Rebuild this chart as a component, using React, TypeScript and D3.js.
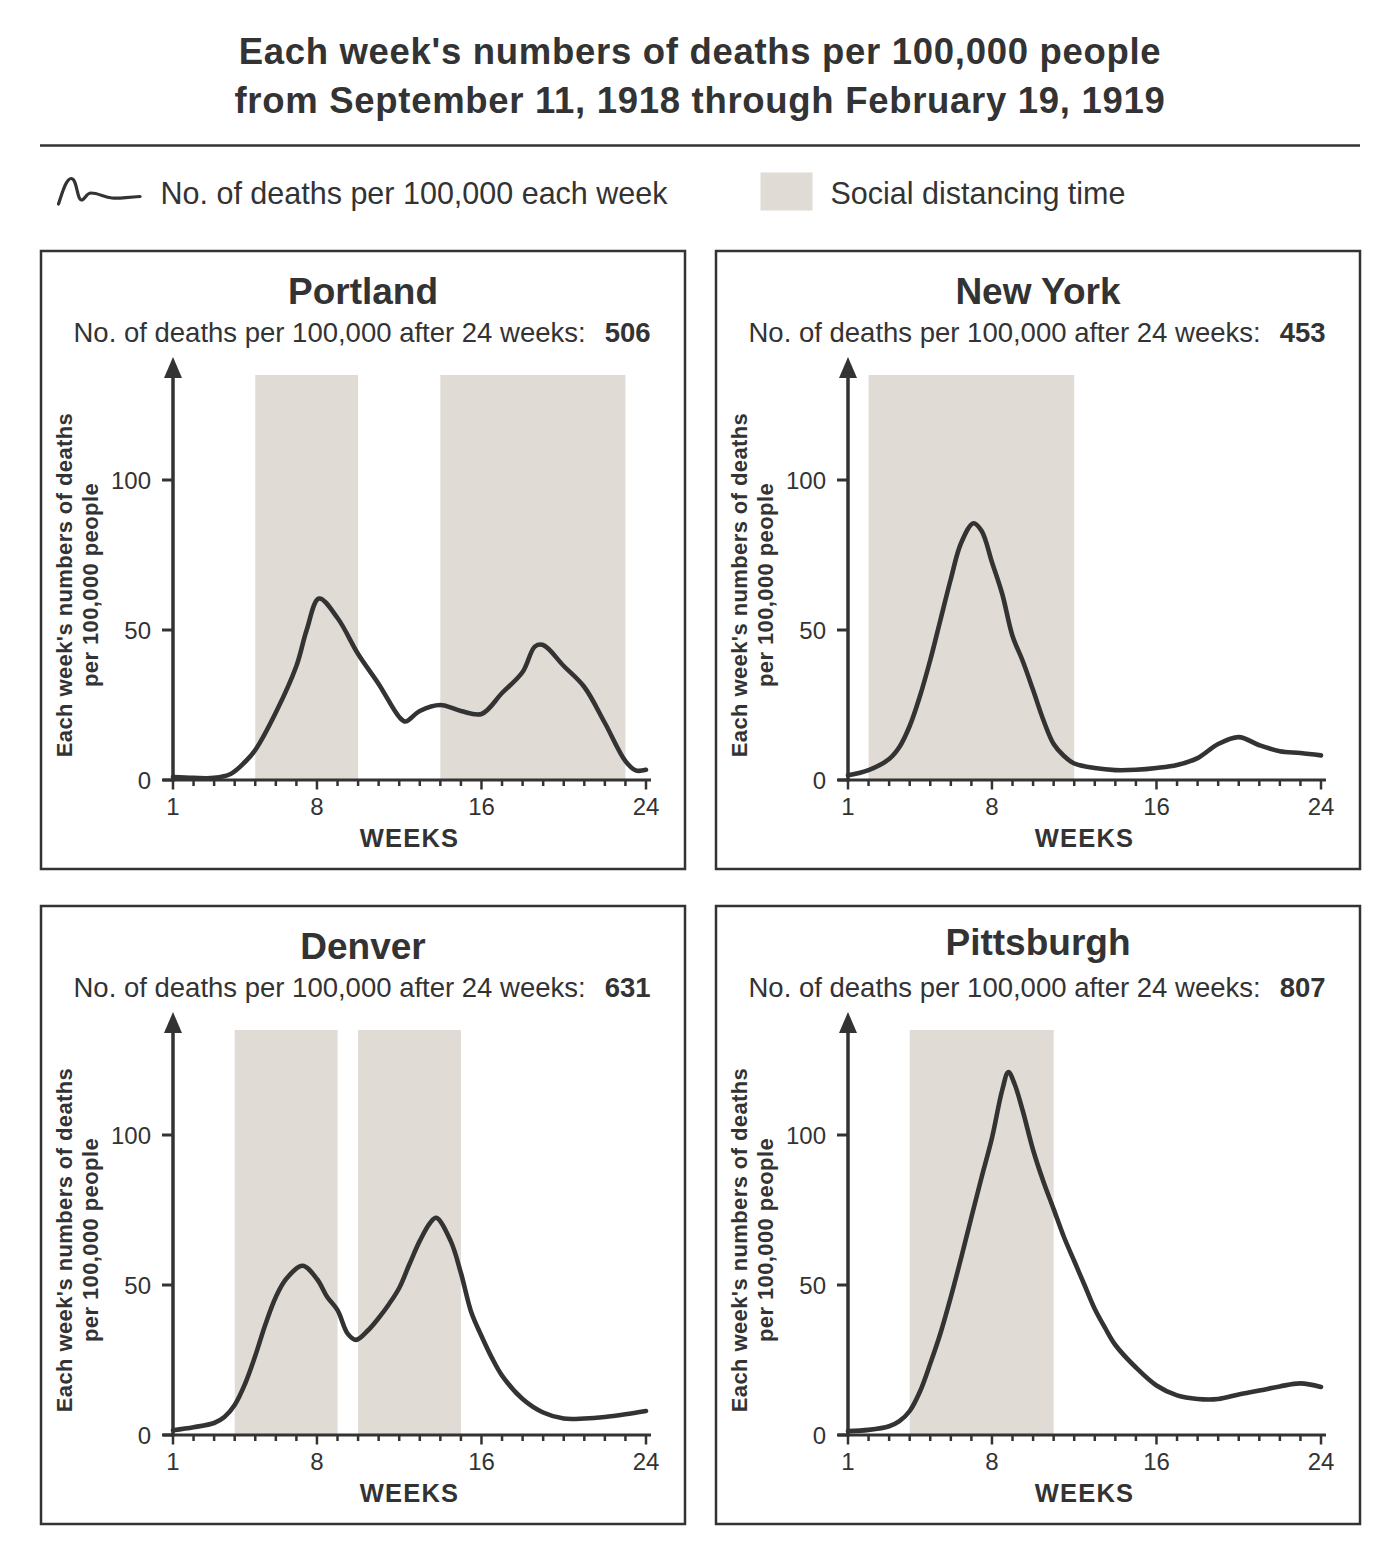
import { useEffect } from 'react';
import * as d3 from 'd3';

const INK = '#333333';
const SHADE = '#e0dbd4';
const FONT = '"Liberation Sans", Arial, Helvetica, sans-serif';

// x axis: one tick per week, labels on a few of them
const weekTicks = d3.range(1, 25);
const weekLabels = [1, 8, 16, 24];
const deathTicks = [0, 50, 100];

// values, deaths per 100,000 per week
const portlandWeeks = [1, 2, 3, 3.8, 4.5, 5, 6, 7, 7.5, 8.1, 9, 10, 11, 12, 12.3, 13, 14, 15, 16, 17, 18, 18.6, 19, 20, 21, 22, 23, 23.5, 24];
const portlandDeaths = [1, 0.7, 0.7, 2, 6, 10, 22.5, 38, 50, 60.5, 54, 42, 32, 21, 19.5, 23, 25, 23, 22, 29, 36, 44.5, 45, 38, 31, 19, 6.3, 3.2, 3.4];
const portlandDistancing = [[5, 10], [14, 23]];

const newYorkWeeks = [1, 2, 3, 3.5, 4, 4.5, 5, 5.5, 6, 6.5, 7.1, 7.5, 8, 8.5, 9, 9.5, 10, 10.5, 11, 11.5, 12, 13, 14, 15, 16, 17, 18, 19, 20, 21, 22, 23, 24];
const newYorkDeaths = [1.6, 3.3, 7, 11, 18, 28, 40, 53.5, 67, 79, 85.6, 83, 72.6, 62, 48, 39.6, 30, 20, 12, 8, 5.5, 4, 3.3, 3.4, 4, 5, 7.3, 12, 14.3, 11.6, 9.6, 9, 8.2];
const newYorkDistancing = [[2, 12]];

const denverWeeks = [1, 2, 3, 3.5, 4, 4.5, 5, 5.5, 6, 6.5, 7.3, 8, 8.5, 9, 9.5, 9.9, 10.5, 11, 11.5, 12, 12.5, 13, 13.5, 13.8, 14.5, 15, 15.5, 16, 16.5, 17, 18, 19, 20, 21, 22, 23, 24];
const denverDeaths = [1.6, 2.6, 4, 6, 10, 17, 26.4, 37, 46, 52, 56.4, 52, 46, 41.6, 33.7, 31.7, 35, 39, 43.6, 49, 57, 64.7, 70.7, 72.4, 64.7, 54, 41, 33, 25.8, 19.8, 12, 7.5, 5.5, 5.5, 6, 6.9, 8];
const denverDistancing = [[4, 9], [10, 15]];

const pittsburghWeeks = [1, 2, 3, 3.5, 4, 4.5, 5, 5.5, 6, 6.5, 7, 7.5, 8, 8.5, 8.8, 9.1, 9.5, 10, 10.5, 11, 11.5, 12, 12.5, 13, 13.5, 14, 15, 16, 17, 18, 19, 20, 21, 22, 23, 24];
const pittsburghDeaths = [1.3, 1.7, 2.9, 4.6, 8, 14.5, 23.8, 34, 46, 59, 72.6, 86, 99, 115, 121, 117, 108, 95, 84.5, 75.3, 66, 58, 50, 42, 35.7, 30, 22.5, 16.5, 13.2, 12, 12, 13.5, 14.8, 16.2, 17.2, 16];
const pittsburghDistancing = [[4, 11]];

const cityNames = ['Portland', 'New York', 'Denver', 'Pittsburgh'];
const cityTotals = [506, 453, 631, 807];
const cityWeeks = [portlandWeeks, newYorkWeeks, denverWeeks, pittsburghWeeks];
const cityDeaths = [portlandDeaths, newYorkDeaths, denverDeaths, pittsburghDeaths];
const cityDistancing = [portlandDistancing, newYorkDistancing, denverDistancing, pittsburghDistancing];

const PANEL_W = 644;
const PANEL_H = 618;

type PanelProps = {
  name: string;
  total: number;
  weeks: number[];
  deaths: number[];
  distancing: number[][];
  x: number;
  y: number;
  titleShift: number;
};

function CityPanel({ name, total, weeks, deaths, distancing, x, y, titleShift }: PanelProps) {
  const xScale = d3.scaleLinear().domain([1, 24]).range([132, 605]);
  const yScale = d3.scaleLinear().domain([0, 135]).range([529, 124]);
  const y0 = yScale(0);
  const ax = xScale(1);

  const line = d3
    .line<number>()
    .x((_, i) => xScale(weeks[i]))
    .y((d) => yScale(d))
    .curve(d3.curveCatmullRom.alpha(0.5));

  return (
    <g transform={`translate(${x},${y})`}>
      <rect width={PANEL_W} height={PANEL_H} fill="#fff" stroke={INK} strokeWidth={2.5} />

      <text x={322} y={52.5 + titleShift} textAnchor="middle" fontSize={37} fontWeight="bold" fill={INK}>
        {name}
      </text>
      <text x={321} y={90.5} textAnchor="middle" fontSize={27.5} fill={INK}>
        No. of deaths per 100,000 after 24 weeks:
        <tspan dx={19} fontWeight="bold">{total}</tspan>
      </text>

      {/* social distancing periods */}
      {distancing.map(([a, b], i) => (
        <rect
          key={i}
          x={xScale(a)}
          y={yScale(135)}
          width={xScale(b) - xScale(a)}
          height={y0 - yScale(135)}
          fill={SHADE}
        />
      ))}

      {/* y axis with arrow */}
      <line x1={ax} x2={ax} y1={y0 + 1.5} y2={120} stroke={INK} strokeWidth={3.5} />
      <path d={`M${ax - 9},${127} L${ax},${106} L${ax + 9},${127} Z`} fill={INK} />
      {deathTicks.map((t) => (
        <g key={t}>
          <line x1={ax - 11} x2={ax} y1={yScale(t)} y2={yScale(t)} stroke={INK} strokeWidth={3} />
          <text x={110} y={yScale(t)} dy="0.36em" textAnchor="end" fontSize={24} fill={INK}>
            {t}
          </text>
        </g>
      ))}

      {/* x axis */}
      <line x1={122} x2={610} y1={y0} y2={y0} stroke={INK} strokeWidth={3} />
      {weekTicks.map((w) => (
        <line
          key={w}
          x1={xScale(w)}
          x2={xScale(w)}
          y1={y0}
          y2={y0 + (weekLabels.includes(w) ? 9.5 : 6)}
          stroke={INK}
          strokeWidth={2.5}
        />
      ))}
      {weekLabels.map((w) => (
        <text key={w} x={xScale(w)} y={564} textAnchor="middle" fontSize={24} fill={INK}>
          {w}
        </text>
      ))}
      <text x={(xScale(1) + xScale(24)) / 2} y={596} textAnchor="middle" fontSize={25.5} fontWeight="bold" letterSpacing={1.2} fill={INK}>
        WEEKS
      </text>

      {/* y axis title */}
      <g fontSize={22} fontWeight="bold" letterSpacing={0.4} fill={INK} textAnchor="middle">
        <text transform={`translate(31,334) rotate(-90)`}>Each week's numbers of deaths</text>
        <text transform={`translate(57,334) rotate(-90)`}>per 100,000 people</text>
      </g>

      <path
        d={line(deaths) ?? ''}
        fill="none"
        stroke={INK}
        strokeWidth={4.6}
        strokeLinejoin="round"
        strokeLinecap="round"
      />
    </g>
  );
}

export default function App() {
  useEffect(() => {
    document.body.style.margin = '0';
  }, []);

  const panelX = [41, 716];
  const panelY = [251, 906];
  const titleShift = [0, 0, 0, -4];

  return (
    <svg
      width={1400}
      height={1560}
      style={{ display: 'block', position: 'absolute', left: 0, top: 0, background: '#fff' }}
      fontFamily={FONT}
    >
      <rect width={1400} height={1560} fill="#fff" />

      <g fontSize={36.5} fontWeight="bold" letterSpacing={0.7} fill={INK} textAnchor="middle">
        <text x={700} y={64}>Each week's numbers of deaths per 100,000 people</text>
        <text x={700} y={113}>from September 11, 1918 through February 19, 1919</text>
      </g>
      <line x1={40} x2={1360} y1={145.5} y2={145.5} stroke={INK} strokeWidth={2.5} />

      {/* legend */}
      <path
        d="M58.5,204 C62,194 66,178 71.5,178.5 C77,179 77,200 81.5,200 C85,200 86,193 91,193 C98,193 104,197 112,198 C120,199 126,197 140,196.5"
        fill="none"
        stroke={INK}
        strokeWidth={3.2}
        strokeLinecap="round"
        strokeLinejoin="round"
      />
      <text x={160.5} y={204.3} fontSize={30.5} fill={INK}>
        No. of deaths per 100,000 each week
      </text>
      <rect x={760.5} y={172.5} width={52} height={38} fill={SHADE} />
      <text x={830.5} y={204.3} fontSize={30.5} fill={INK}>
        Social distancing time
      </text>

      {cityNames.map((name, i) => (
        <CityPanel
          key={name}
          name={name}
          total={cityTotals[i]}
          weeks={cityWeeks[i]}
          deaths={cityDeaths[i]}
          distancing={cityDistancing[i]}
          x={panelX[i % 2]}
          y={panelY[Math.floor(i / 2)]}
          titleShift={titleShift[i]}
        />
      ))}
    </svg>
  );
}
